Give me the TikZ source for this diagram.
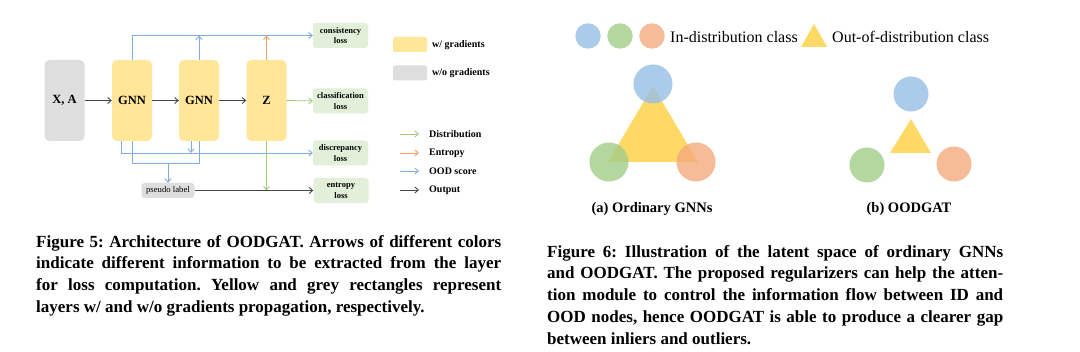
\documentclass[tikz,border=0pt]{standalone}
\usepackage{fontspec}
\setmainfont{Liberation Serif}[BoldFont={Liberation Serif Bold}]
\usetikzlibrary{arrows.meta,calc}
\frenchspacing
\definecolor{boxyellow}{RGB}{255,230,153}
\definecolor{boxgray}{RGB}{222,222,222}
\definecolor{lossgreen}{RGB}{226,239,217}
\definecolor{lblue}{RGB}{125,172,224}
\definecolor{lgreen}{RGB}{160,205,125}
\definecolor{lorange}{RGB}{244,160,110}
\definecolor{ldark}{RGB}{70,70,70}
\definecolor{cblue}{RGB}{150,190,230}
\definecolor{cgreen}{RGB}{160,205,135}
\definecolor{corange}{RGB}{244,170,125}
\definecolor{cyellow}{RGB}{255,217,102}
\begin{document}
\begin{tikzpicture}[x=1pt,y=-1pt,
  box/.style={rounded corners=5pt, minimum width=40pt, minimum height=81pt, inner sep=0pt,
    font=\fontsize{12.5}{14}\selectfont\bfseries},
  ybox/.style={box, fill=boxyellow},
  gbox/.style={box, fill=boxgray},
  loss/.style={rounded corners=3pt, fill=lossgreen, minimum width=55pt, minimum height=25pt,
    inner sep=0pt, align=center, font=\fontsize{8.5}{10.5}\selectfont\bfseries},
  plbox/.style={rounded corners=3pt, fill=boxgray, minimum width=53pt, minimum height=15pt,
    inner sep=0pt, font=\fontsize{8.7}{10}\selectfont},
  legbox/.style={rounded corners=2pt, minimum width=34pt, minimum height=15pt, inner sep=0pt},
  legtext/.style={anchor=west, inner sep=0pt, font=\fontsize{10}{12}\selectfont\bfseries},
  arr/.style={-{Straight Barb[length=3.5pt,width=6pt]}, line width=0.9pt},
  circ/.style={opacity=0.8},
  captext/.style={anchor=north west, inner sep=0pt, align=justify,
    font=\fontsize{17}{21.8}\selectfont\bfseries},
  sublab/.style={inner sep=0pt, font=\fontsize{14.5}{16}\selectfont\bfseries},
  keytext/.style={anchor=west, inner sep=0pt, font=\fontsize{16}{20}\selectfont}
]
\useasboundingbox (0,0) rectangle (1080,352);
\fill[white] (0,0) rectangle (1080,352);

% ---------- Figure 5 ----------
\node[gbox] (xa) at (64.5,100.5) {X, A};
\node[ybox] (g1) at (132,100.5) {GNN};
\node[ybox] (g2) at (199,100.5) {GNN};
\node[ybox] (z)  at (266.5,100.5) {Z};
\node[loss] (lc)  at (340.5,35.5) {consistency\\loss};
\node[loss] (lcl) at (340.5,101) {classification\\loss};
\node[loss] (ld)  at (340.5,153) {discrepancy\\loss};
\node[loss] (le)  at (341,190.5) {entropy\\loss};
\node[plbox] (pl) at (168,190.5) {pseudo label};

\draw[arr,ldark] (xa) -- (g1);
\draw[arr,ldark] (g1) -- (g2);
\draw[arr,ldark] (g2) -- (z);
\draw[arr,lgreen] (z) -- (lcl);

\draw[arr,lblue] (g1.north) |- (lc.west);
\draw[arr,lblue] (g2.north) -- (g2.north |- lc.west);
\draw[arr,lorange] (z.north) -- (z.north |- lc.west);

\coordinate (b1) at ([xshift=-11pt]g1.south);
\coordinate (b2) at ([xshift=-8pt]g2.south);
\coordinate (low) at (0,163);
\draw[arr,lblue] (b1) |- (ld.west);
\draw[arr,lblue] (b2) -- (b2 |- ld.west);
\draw[lblue,line width=0.9pt] (g1.south) -- (g1.south |- low) -| (g2.south);
\draw[arr,lblue] (pl.north |- low) -- (pl.north);
\draw[arr,lgreen] (z.south) -- (z.south |- pl.east);
\draw[arr,ldark] (pl) -- (le);

% legend
\node[legbox, fill=boxyellow] (ly) at (410,44.5) {};
\node[legtext] (lyt) at (432,45) {w/ gradients};
\node[legbox, fill=boxgray] (lg) at (410,73) {};
\node[legtext] (lgt) at (432,73.5) {w/o gradients};

\coordinate (k1s) at (400,134); \coordinate (k1e) at (419,134);
\coordinate (k2s) at (400,153); \coordinate (k2e) at (419,153);
\coordinate (k3s) at (400,171); \coordinate (k3e) at (419,171);
\coordinate (k4s) at (400,190); \coordinate (k4e) at (419,190);
\draw[arr,lgreen] (k1s) -- (k1e);
\draw[arr,lorange] (k2s) -- (k2e);
\draw[arr,lblue] (k3s) -- (k3e);
\draw[arr,ldark] (k4s) -- (k4e);
\node[legtext] (k1t) at (429,134) {Distribution};
\node[legtext] (k2t) at (429,153) {Entropy};
\node[legtext] (k3t) at (429,171.5) {OOD score};
\node[legtext] (k4t) at (429,190) {Output};

\node[captext, text width=465pt] (cap5) at (36,235) {Figure 5: Architecture of OODGAT. Arrows of different colors\linebreak
indicate different information to be extracted from the layer\linebreak
for loss computation. Yellow and grey rectangles represent\linebreak
layers w/ and w/o gradients propagation, respectively.};

% ---------- Figure 6 ----------
\fill[cblue,circ] (588,36) circle (12.7);
\fill[cgreen,circ] (620,36) circle (12.7);
\fill[corange,circ] (652,36) circle (12.7);
\node[keytext] (kin) at (670,37) {In-distribution class};
\fill[cyellow] (801,47) -- (814,24) -- (827,47) -- cycle;
\node[keytext] (kout) at (832,37) {Out-of-distribution class};

% (a)
\fill[cyellow] (653,86) -- (608,162) -- (698,162) -- cycle;
\fill[cblue,circ] (653,84) circle (19.5);
\fill[cgreen,circ] (609,162) circle (19.5);
\fill[corange,circ] (696,162) circle (19.5);
\node[sublab] (la) at (652,209) {(a) Ordinary GNNs};

% (b)
\fill[cyellow] (911,119) -- (890,153) -- (931,153) -- cycle;
\fill[cblue,circ] (911,94) circle (17.5);
\fill[cgreen,circ] (867,165) circle (17.5);
\fill[corange,circ] (954,164) circle (17.5);
\node[sublab] (lb) at (909,209) {(b) OODGAT};

\node[captext, text width=456pt] (cap6) at (547,245) {Figure 6: Illustration of the latent space of ordinary GNNs\linebreak
and OODGAT. The proposed regularizers can help the atten-\linebreak
tion module to control the information flow between ID and\linebreak
OOD nodes, hence OODGAT is able to produce a clearer gap\linebreak
between inliers and outliers.};
\end{tikzpicture}
\end{document}
